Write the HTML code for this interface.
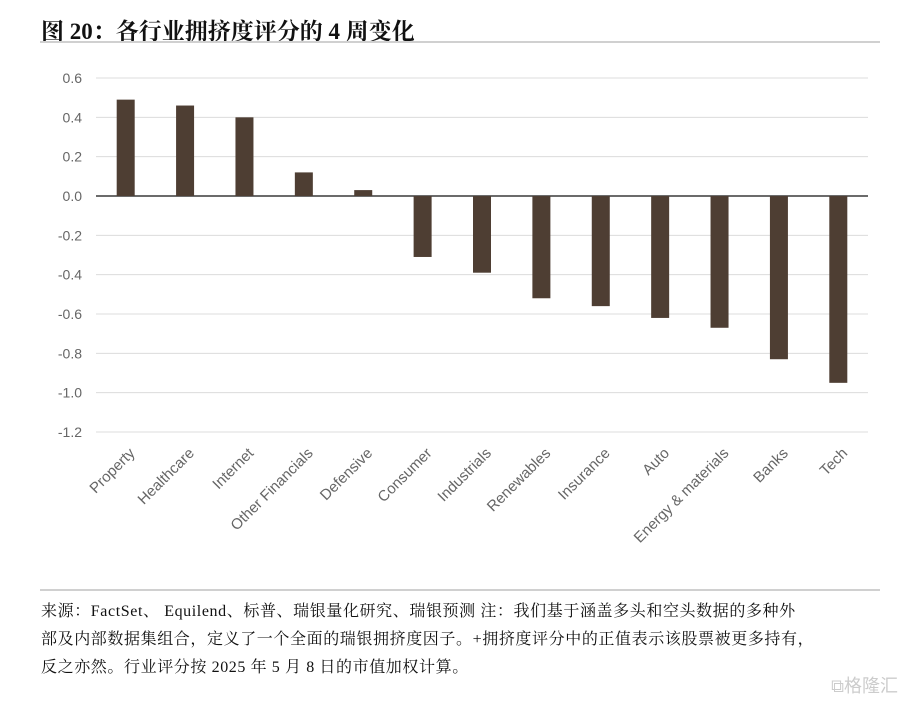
<!DOCTYPE html>
<html><head><meta charset="utf-8">
<style>
body{margin:0;background:#fff;width:906px;height:702px;overflow:hidden;font-family:"Liberation Serif","Noto Serif CJK SC",serif;}
.title{position:absolute;left:41px;top:13px;font-size:23px;font-weight:bold;color:#111;font-family:"Liberation Serif","Noto Serif CJK SC",serif;}
.rule{position:absolute;left:40px;width:840px;height:2px;background:#d0d0d0;}
.foot{position:absolute;left:41px;top:598px;font-size:16px;line-height:28px;color:#111;white-space:nowrap;letter-spacing:0.6px;}
.wm{position:absolute;right:8px;bottom:4px;font-size:18px;color:#ccc;font-family:"Noto Sans CJK SC",sans-serif;}
</style></head><body>
<div class="title">图 20：各行业拥挤度评分的 4 周变化</div>
<div class="rule" style="top:41px"></div>
<svg id="chart" width="906" height="702" style="position:absolute;left:0;top:0"></svg>
<div class="rule" style="top:589px"></div>
<div class="foot">来源：FactSet、 Equilend、标普、瑞银量化研究、瑞银预测 注：我们基于涵盖多头和空头数据的多种外<br>部及内部数据集组合，定义了一个全面的瑞银拥挤度因子。+拥挤度评分中的正值表示该股票被更多持有，<br>反之亦然。行业评分按 2025 年 5 月 8 日的市值加权计算。</div>
<div class="wm">⧉格隆汇</div>
<script>
const categories=["Property","Healthcare","Internet","Other Financials","Defensive","Consumer","Industrials","Renewables","Insurance","Auto","Energy & materials","Banks","Tech"];
const values=[0.49,0.46,0.40,0.12,0.03,-0.31,-0.39,-0.52,-0.56,-0.62,-0.67,-0.83,-0.95];
const ticks=[0.6,0.4,0.2,0.0,-0.2,-0.4,-0.6,-0.8,-1.0,-1.2];
const NS="http://www.w3.org/2000/svg";
const svg=document.getElementById('chart');
const x0=96,x1=868,yTop=78,yBot=432,vMax=0.6,vMin=-1.2;
const y=v=>yTop+(vMax-v)/(vMax-vMin)*(yBot-yTop);
const step=(x1-x0)/categories.length;
const xc=i=>x0+step*(i+0.5);
function mk(t,a){const e=document.createElementNS(NS,t);for(const k in a)e.setAttribute(k,a[k]);svg.appendChild(e);return e;}
ticks.forEach(t=>{
 const l=mk('line',{x1:x0,x2:x1,y1:y(t),y2:y(t),stroke:t===0?'#3a3a3a':'#dcdcdc','stroke-width':t===0?1.5:1});
 
 
 const tx=mk('text',{x:82,y:y(t)+5,'text-anchor':'end','font-size':14,fill:'#666','font-family':'Liberation Sans, sans-serif'});
 tx.textContent=t.toFixed(1);
 
 
});
values.forEach((v,i)=>{
 const bw=18;
 const r=mk('rect',{x:xc(i)-bw/2,y:Math.min(y(v),y(0)),width:bw,height:Math.abs(y(v)-y(0)),fill:'#4e3e33'});
 
 
 const tx=mk('text',{x:xc(i)+10,y:454,'text-anchor':'end','font-size':15,fill:'#666','font-family':'Liberation Sans, sans-serif',transform:`rotate(-45 ${xc(i)+10} 454)`});
 tx.textContent=categories[i];
 
 
});
</script>
</body></html>
